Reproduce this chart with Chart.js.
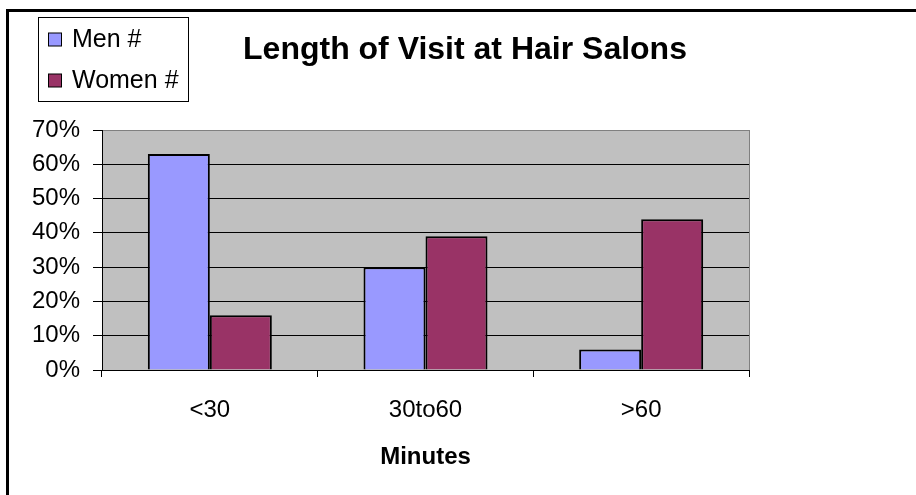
<!DOCTYPE html>
<html>
<head>
<meta charset="utf-8">
<title>Length of Visit at Hair Salons</title>
<script src="https://cdn.jsdelivr.net/npm/chart.js@4.4.1/dist/chart.umd.min.js"></script>
<style>
  html, body { margin: 0; padding: 0; background: #fff; }
  #wrap { width: 916px; height: 495px; }
</style>
</head>
<body>
<div id="wrap"><canvas id="visits" width="916" height="495"></canvas></div>
<script>
// data
var categories = ['<30', '30to60', '>60'];
var menPct = [63, 30, 6];
var womenPct = [16, 39, 44];
var seriesNames = ['Men #', 'Women #'];
var yTicks = [0, 10, 20, 30, 40, 50, 60, 70];

var FONT = "'Liberation Sans', Arial, sans-serif";

// plot background, gray frame, outer border, title and legend box
var chartDecor = {
  id: 'chartDecor',
  beforeDraw: function (chart) {
    var c = chart.ctx, a = chart.chartArea;
    c.save();
    c.fillStyle = '#fff';
    c.fillRect(0, 0, chart.width, chart.height);
    c.fillStyle = '#C0C0C0';
    c.fillRect(a.left, a.top, a.right - a.left, a.bottom - a.top);
    c.restore();
  },
  afterDraw: function (chart) {
    var c = chart.ctx, a = chart.chartArea;
    c.save();
    // right edge of plot area
    c.strokeStyle = '#808080';
    c.lineWidth = 1;
    c.beginPath();
    c.moveTo(Math.round(a.right) + 0.5, a.top);
    c.lineTo(Math.round(a.right) + 0.5, a.bottom);
    c.stroke();

    // outer border (top and left)
    c.strokeStyle = '#000';
    c.lineWidth = 3;
    c.beginPath();
    c.moveTo(7.5, chart.height);
    c.lineTo(7.5, 10.5);
    c.lineTo(chart.width, 10.5);
    c.stroke();

    // title
    c.fillStyle = '#000';
    c.font = 'bold 32px ' + FONT;
    c.textAlign = 'center';
    c.textBaseline = 'alphabetic';
    c.fillText('Length of Visit at Hair Salons', 465, 59);

    // legend
    c.lineWidth = 1;
    c.strokeStyle = '#000';
    c.fillStyle = '#fff';
    c.fillRect(38.5, 17.5, 150, 84);
    c.strokeRect(38.5, 17.5, 150, 84);
    var rows = [47, 88];
    chart.data.datasets.forEach(function (ds, i) {
      var y = rows[i];
      c.fillStyle = ds.backgroundColor;
      c.fillRect(48.5, y - 14, 13, 13);
      c.strokeRect(48.5, y - 14, 13, 13);
      c.fillStyle = '#000';
      c.font = '25px ' + FONT;
      c.textAlign = 'left';
      c.fillText(ds.label, 72, y);
    });
    c.restore();
  }
};

var ctx = document.getElementById('visits');
var visits = new Chart(ctx, {
  type: 'bar',
  data: {
    labels: categories,
    datasets: [{
      label: seriesNames[0],
      data: menPct,
      backgroundColor: '#9999FF',
      borderColor: '#000',
      borderWidth: 2
    }, {
      label: seriesNames[1],
      data: womenPct,
      backgroundColor: '#993366',
      borderColor: '#000',
      borderWidth: 2
    }]
  },
  options: {
    responsive: false,
    animation: false,
    devicePixelRatio: 1,
    layout: {
      padding: { top: 130, left: 0, right: 167, bottom: 0 }
    },
    datasets: {
      bar: { categoryPercentage: 0.575, barPercentage: 1 }
    },
    plugins: {
      legend: { display: false },
      title: { display: false },
      tooltip: { enabled: false }
    },
    scales: {
      x: {
        afterFit: function (scale) { scale.height = 125; },
        offset: true,
        grid: {
          offset: true,
          drawOnChartArea: false,
          tickLength: 7,
          tickColor: '#000',
          color: '#000'
        },
        border: { display: true, color: '#000', width: 1 },
        ticks: {
          color: '#000',
          padding: 19,
          font: { family: FONT, size: 24 }
        },
        title: {
          display: true,
          text: 'Minutes',
          color: '#000',
          font: { family: FONT, size: 24, weight: 'bold' },
          padding: { top: 0, bottom: 23 }
        }
      },
      y: {
        min: 0,
        max: 70,
        afterFit: function (scale) { scale.width = 102; },
        afterBuildTicks: function (scale) {
          scale.ticks = yTicks.map(function (v) { return { value: v }; });
        },
        grid: {
          color: function (c) { return c.tick && c.tick.value === 70 ? '#808080' : '#000'; },
          tickColor: '#000',
          tickLength: 9,
          lineWidth: 1
        },
        border: { display: true, color: '#000', width: 1 },
        ticks: {
          color: '#000',
          padding: 13,
          font: { family: FONT, size: 24 },
          callback: function (v) { return v + '%'; }
        }
      }
    }
  },
  plugins: [chartDecor]
});
</script>
</body>
</html>
